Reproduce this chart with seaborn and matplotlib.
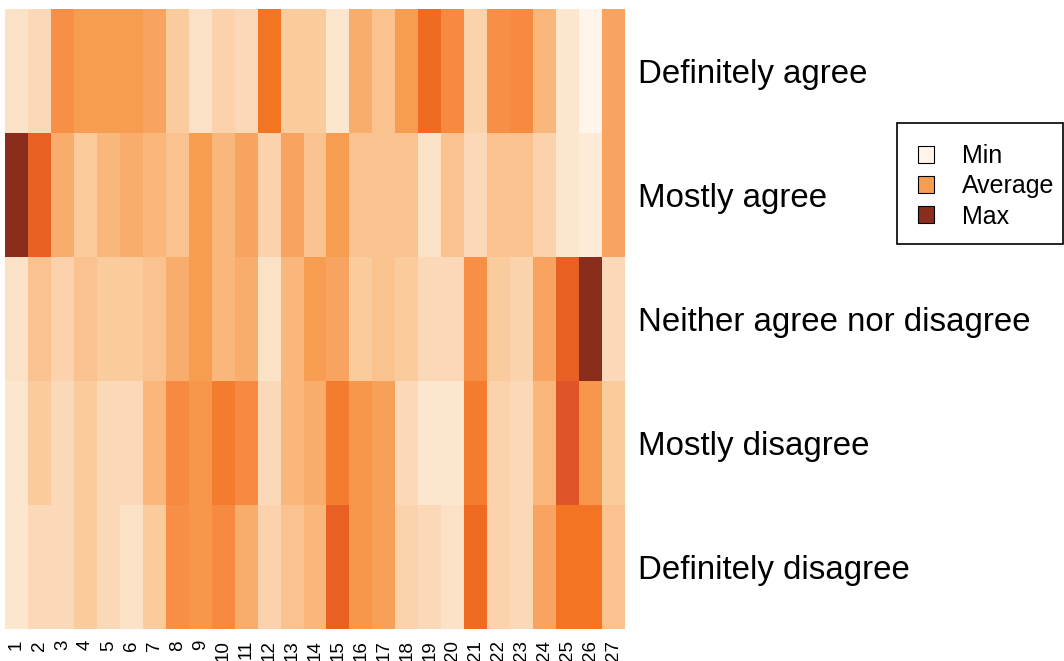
import numpy as np
import pandas as pd
import matplotlib
matplotlib.use("Agg")
import matplotlib.pyplot as plt
import seaborn as sns
from matplotlib.colors import LinearSegmentedColormap
from matplotlib.patches import Patch, Rectangle

# =========================
# DATA (intensity, 0 = min, 20 = max)
# =========================

columns = [str(i) for i in range(1, 28)]
rows = ["Definitely agree", "Mostly agree", "Neither agree nor disagree",
        "Mostly disagree", "Definitely disagree"]

definitely_agree = [2, 3, 9, 8, 8, 8, 7, 4, 2, 3.5, 3, 11, 4, 4, 1.5, 6.5, 5, 8, 12,
                    9.5, 3.5, 9, 9.5, 6, 1.5, 0, 7]
mostly_agree = [20, 13, 6.5, 4, 6, 6.5, 6, 5, 8, 6, 7, 3.5, 7, 5, 8, 5, 5, 5, 2,
                5, 3, 5, 5, 3.5, 1.5, 1, 7]
neither = [2, 5, 3.5, 5, 4, 4, 5, 6.5, 8, 6, 6.5, 2, 6, 8, 7, 4, 5, 4, 3,
           3, 9, 4, 3.5, 7, 13, 20, 3]
mostly_disagree = [1.5, 4, 3, 4, 3, 3, 6, 9.5, 8.5, 10.5, 9.5, 3, 6, 6.5, 10.5, 8.5, 7.5, 3,
                   1.5, 1.5, 10.5, 3.5, 3, 6, 14, 8.5, 4]
definitely_disagree = [1.5, 3, 3, 4, 3, 2, 4, 9, 8.5, 9.5, 6.5, 3.5, 5, 6, 13, 8.5, 7.5, 3.5,
                       3, 2, 12, 3.5, 3, 7, 11, 11, 5]

legend_labels = ["Min", "Average", "Max"]

df = pd.DataFrame(
    [definitely_agree, mostly_agree, neither, mostly_disagree, definitely_disagree],
    index=rows, columns=columns,
)

# =========================
# COLOURS
# =========================

cmap = LinearSegmentedColormap.from_list("oranges_ramp", [
    (0 / 20, "#FFF5EB"),
    (1 / 20, "#FDE9D6"),
    (2 / 20, "#FBE2C5"),
    (3 / 20, "#FBD8B7"),
    (4 / 20, "#FACB9D"),
    (5 / 20, "#FAC28E"),
    (6 / 20, "#F9B77B"),
    (7 / 20, "#F8A35F"),
    (8 / 20, "#F79D52"),
    (9 / 20, "#F79046"),
    (10 / 20, "#F5843A"),
    (11 / 20, "#F37423"),
    (12 / 20, "#EF6B22"),
    (13 / 20, "#E96024"),
    (14 / 20, "#E05428"),
    (20 / 20, "#8B2D1C"),
])

plt.rcParams["font.family"] = ["Liberation Sans", "DejaVu Sans"]

# =========================
# HEATMAP
# =========================

fig = plt.figure(figsize=(10.64, 6.61), dpi=100)
ax = fig.add_axes([5 / 1064, 1 - 629 / 661, 620 / 1064, 620 / 661])

sns.heatmap(df, cmap=cmap, vmin=0, vmax=20, cbar=False, ax=ax,
            linewidths=0)

ax.yaxis.tick_right()
ax.set_yticklabels(rows, rotation=0, fontsize=23.8)
ax.set_xticklabels(columns, rotation=90, fontsize=13.5)
ax.tick_params(axis="both", length=0)
ax.tick_params(axis="y", pad=9)
ax.tick_params(axis="x", pad=8)
for lab in ax.get_xticklabels():
    lab.set_verticalalignment("top")
ax.set_xlabel("")
ax.set_ylabel("")

# =========================
# LEGEND (R-style box drawn separately)
# =========================

handles = [Patch(facecolor=cmap(v), edgecolor="black", linewidth=0.8)
           for v in (0.0, 0.4, 1.0)]
leg = fig.legend(handles, legend_labels, loc="upper left",
                 bbox_to_anchor=(918 / 1064, 1 - 144 / 661),
                 fontsize=18, frameon=False,
                 handlelength=0.65, handleheight=0.65,
                 handletextpad=1.1, labelspacing=0.25, borderpad=0,
                 borderaxespad=0)

fig.patches.append(Rectangle((897 / 1064, 1 - 244 / 661), 166 / 1064, 121 / 661,
                             transform=fig.transFigure, fill=False,
                             edgecolor="black", linewidth=1.2))

fig.savefig("out.png", dpi=100)
